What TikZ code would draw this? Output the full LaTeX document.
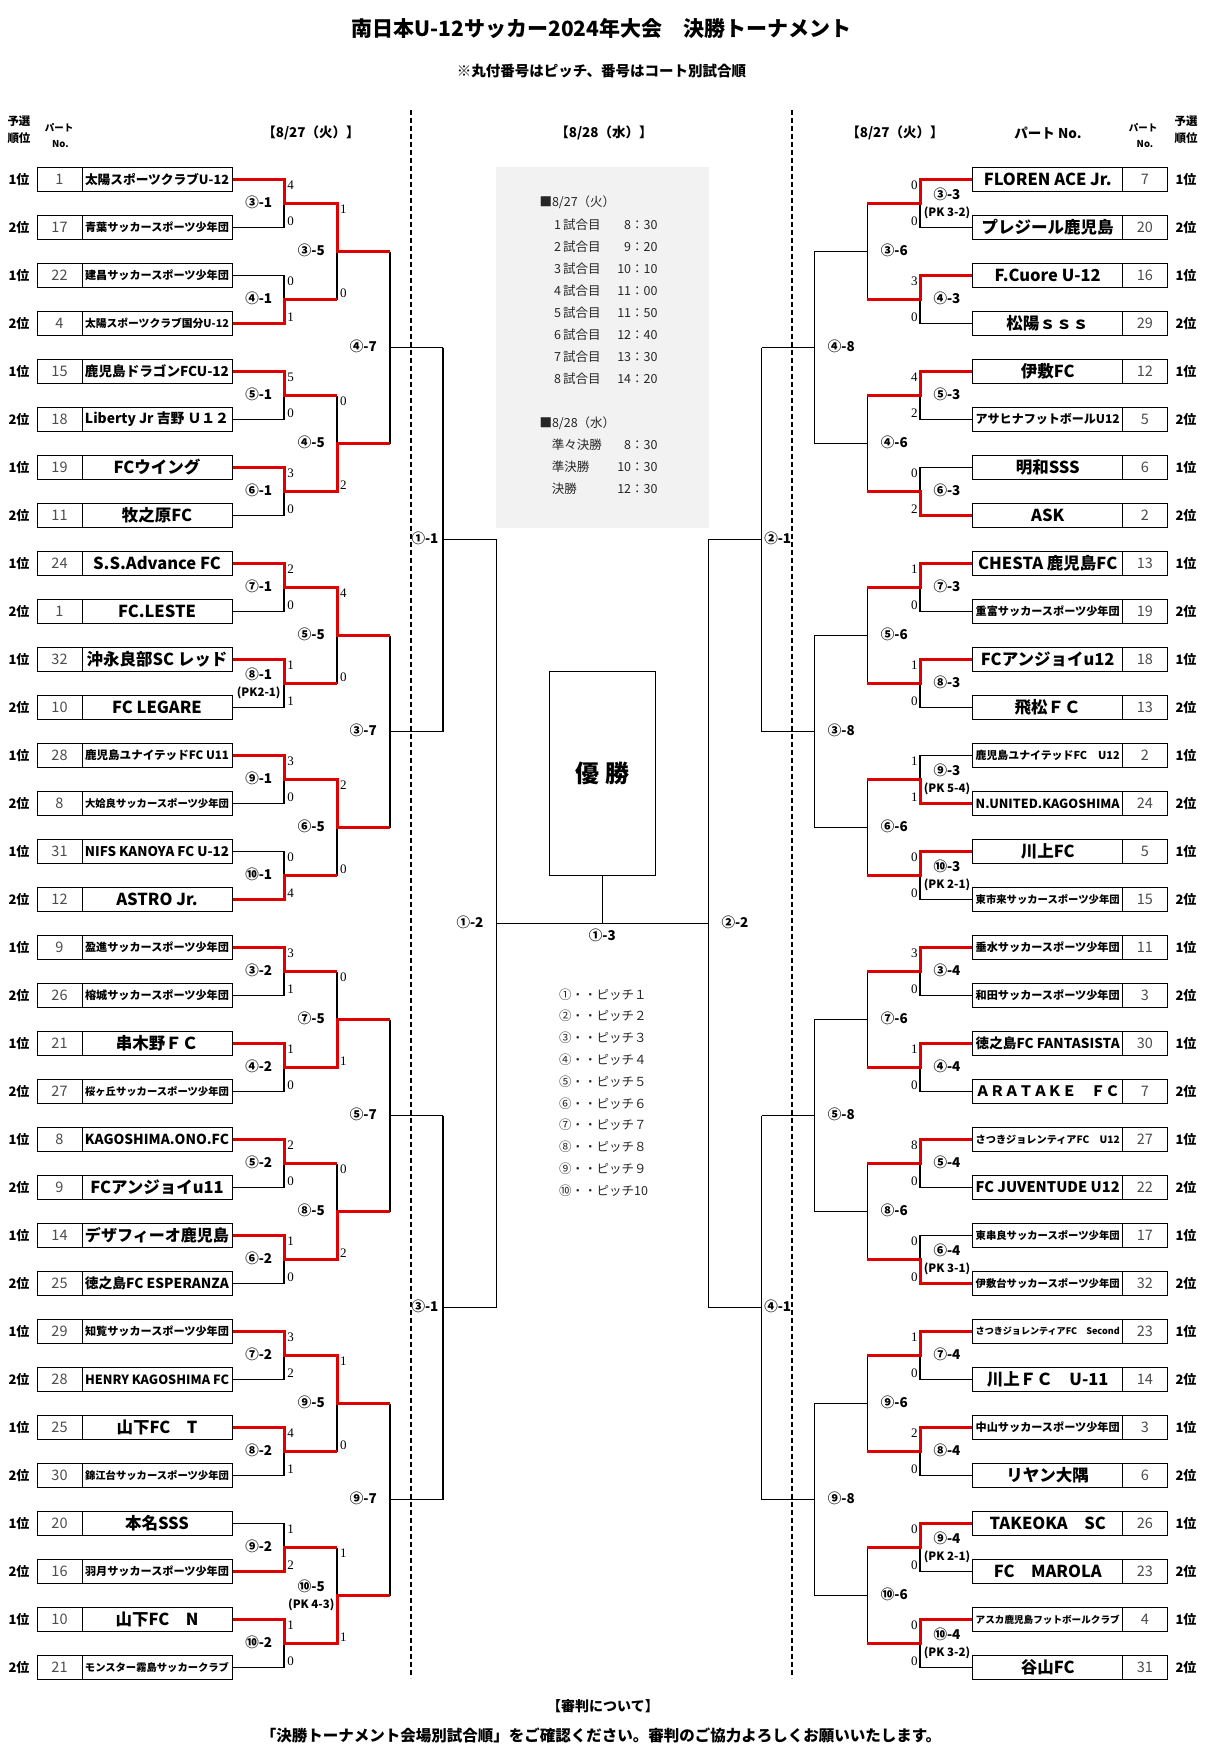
\documentclass[tikz,border=0pt]{standalone}
\usepackage{fontspec}
\setmainfont{Noto Sans CJK JP}
\newfontfamily\scorefont{Liberation Serif}
\usepackage{graphicx}
\definecolor{winred}{RGB}{224,0,0}

% shrink a team name to the cell
\newsavebox\fitbox
\newcommand\fitname[1]{\sbox\fitbox{#1}%
  \ifdim\wd\fitbox>144pt\resizebox{144pt}{!}{\usebox\fitbox}\else\usebox\fitbox\fi}

% row, rank, number, name
\newcommand\lteam[4]{%
  \node[numbox] (Ln#1) at (59.5,{131.5+48*#1}) {#3};
  \node[namebox] (L#1) at (157,{131.5+48*#1}) {\fitname{#4}};
  \node[rank] (Lr#1) at (19,{131.5+48*#1}) {#2位};}
\newcommand\rteam[4]{%
  \node[namebox] (R#1) at (1047.7,{131.5+48*#1}) {\fitname{#4}};
  \node[numbox] (Rn#1) at (1144.8,{131.5+48*#1}) {#3};
  \node[rank] (Rr#1) at (1186,{131.5+48*#1}) {#2位};}

% [pk] joint, xshift, label
\newcommand\game[4][]{%
  \if\relax\detokenize{#1}\relax
    \node[mlab] (#2-l) at ([xshift=#3pt,yshift=1pt]#2) {#4};%
  \else
    \node[mlab] (#2-l) at ([xshift=#3pt,yshift=9.5pt]#2) {#4};%
    \node[pk] (#2-pk) at ([xshift=#3pt,yshift=-9.5pt]#2) {(#1)};%
  \fi}
% joint, xshift, yshift, top, bottom
\newcommand\scores[5]{%
  \node[sc] (#1-s1) at ([xshift=#2pt,yshift=#3pt]#1) {#4};%
  \node[sc] (#1-s2) at ([xshift=#2pt,yshift=-#3pt]#1) {#5};}

\tikzset{
  namebox/.style={draw, line width=1pt, minimum width=150pt, minimum height=23.5pt,
    inner sep=0pt, font=\bfseries\fontsize{16.5}{16.5}\selectfont},
  numbox/.style={draw, line width=1pt, minimum width=45pt, minimum height=23.5pt,
    inner sep=0pt, text=black!70, font=\fontsize{14.5}{14.5}\selectfont},
  rank/.style={inner sep=0pt, font=\bfseries\fontsize{13}{13}\selectfont},
  mlab/.style={inner sep=0pt, font=\bfseries\fontsize{13.5}{13.5}\selectfont},
  pk/.style={inner sep=0pt, font=\bfseries\fontsize{11.5}{11.5}\selectfont},
  sc/.style={inner sep=0pt, font=\scorefont\fontsize{13}{13}\selectfont},
  blackline/.style={line width=1.2pt},
  redline/.style={line width=3pt, draw=winred},
  sepline/.style={line width=1.6pt, dash pattern=on 5pt off 3pt},
  sched/.style={inner sep=0pt, text=black!85, font=\fontsize{12.5}{12.5}\selectfont},
  head/.style={inner sep=0pt, font=\bfseries\fontsize{13.5}{13.5}\selectfont},
  heads/.style={inner sep=0pt, font=\bfseries\fontsize{9.5}{9.5}\selectfont},
}

\begin{document}
\begin{tikzpicture}[x=1pt,y=-1pt]
\fill[white] (0,0) rectangle (1205,1748);
\useasboundingbox (0,0) rectangle (1205,1748);

% titles
\node[inner sep=0pt, font=\bfseries\fontsize{21}{21}\selectfont] (title) at (601.5,28.3)
  {南日本U-12サッカー2024年大会　決勝トーナメント};
\node[inner sep=0pt, font=\bfseries\fontsize{14.5}{14.5}\selectfont] (subtitle) at (601.5,70.7)
  {※丸付番号はピッチ、番号はコート別試合順};
\node[head, font=\bfseries\fontsize{11.5}{11.5}\selectfont] (h1) at (19,121.7) {予選};
\node[head, font=\bfseries\fontsize{11.5}{11.5}\selectfont] (h2) at (19,138.3) {順位};
\node[heads] (h3) at (59,128) {パート};
\node[heads] (h4) at (60.5,144) {No.};
\node[head] (h5) at (311,133) {【8/27（火）】};
\node[head] (h6) at (604,133) {【8/28（水）】};
\node[head] (h7) at (895,133) {【8/27（火）】};
\node[head] (h8) at (1048,133) {パート No.};
\node[heads] (h9) at (1143,128) {パート};
\node[heads] (h10) at (1145,144) {No.};
\node[head, font=\bfseries\fontsize{11.5}{11.5}\selectfont] (h11) at (1186,121.7) {予選};
\node[head, font=\bfseries\fontsize{11.5}{11.5}\selectfont] (h12) at (1186,138.3) {順位};

% day separators
\coordinate (dl1) at (411,110);
\coordinate (dl2) at (411,1678);
\coordinate (dr1) at (791.8,110);
\coordinate (dr2) at (791.8,1678);
\draw[sepline] (dl1) -- (dl2);
\draw[sepline] (dr1) -- (dr2);

% schedule
\node[fill=black!5, minimum width=213pt, minimum height=361pt, inner sep=0pt] (sched) at (602.5,347.2) {};
\node[sched, anchor=west] (d1) at (539.3,202.7) {■8/27（火）};
\foreach \n/\t [count=\i] in {1/8：30,2/9：20,3/10：10,4/11：00,5/11：50,6/12：40,7/13：30,8/14：20} {
  \node[sched, anchor=west] (g\i) at (554,{203+22*\i}) {\n\,試合目};
  \node[sched, anchor=east] (t\i) at (657.7,{203+22*\i}) {\t};}
\node[sched, anchor=west] (d2) at (539.3,423.3) {■8/28（水）};
\foreach \n/\t [count=\i] in {準々決勝/8：30,準決勝/10：30,決勝/12：30} {
  \node[sched, anchor=west] (k\i) at (551.7,{423+22*\i}) {\n};
  \node[sched, anchor=east] (u\i) at (657.7,{423+22*\i}) {\t};}

% pitches
\foreach \c/\p [count=\i] in {①/１,②/２,③/３,④/４,⑤/５,⑥/６,⑦/７,⑧/８,⑨/９,⑩/10}
  \node[sched, anchor=west] (p\i) at (559,{972.6+21.8*\i}) {\c・・ピッチ\p};

% teams
\lteam{1}{1}{1}{太陽スポーツクラブU-12}
\lteam{2}{2}{17}{青葉サッカースポーツ少年団}
\lteam{3}{1}{22}{建昌サッカースポーツ少年団}
\lteam{4}{2}{4}{太陽スポーツクラブ国分U-12}
\lteam{5}{1}{15}{鹿児島ドラゴンFCU-12}
\lteam{6}{2}{18}{Liberty Jr 吉野 Ｕ１２}
\lteam{7}{1}{19}{FCウイング}
\lteam{8}{2}{11}{牧之原FC}
\lteam{9}{1}{24}{S.S.Advance FC}
\lteam{10}{2}{1}{FC.LESTE}
\lteam{11}{1}{32}{沖永良部SC レッド}
\lteam{12}{2}{10}{FC LEGARE}
\lteam{13}{1}{28}{鹿児島ユナイテッドFC U11}
\lteam{14}{2}{8}{大姶良サッカースポーツ少年団}
\lteam{15}{1}{31}{NIFS KANOYA FC U-12}
\lteam{16}{2}{12}{ASTRO Jr.}
\lteam{17}{1}{9}{盈進サッカースポーツ少年団}
\lteam{18}{2}{26}{榕城サッカースポーツ少年団}
\lteam{19}{1}{21}{串木野ＦＣ}
\lteam{20}{2}{27}{桜ヶ丘サッカースポーツ少年団}
\lteam{21}{1}{8}{KAGOSHIMA.ONO.FC}
\lteam{22}{2}{9}{FCアンジョイu11}
\lteam{23}{1}{14}{デザフィーオ鹿児島}
\lteam{24}{2}{25}{徳之島FC ESPERANZA}
\lteam{25}{1}{29}{知覧サッカースポーツ少年団}
\lteam{26}{2}{28}{HENRY KAGOSHIMA FC}
\lteam{27}{1}{25}{山下FC　T}
\lteam{28}{2}{30}{錦江台サッカースポーツ少年団}
\lteam{29}{1}{20}{本名SSS}
\lteam{30}{2}{16}{羽月サッカースポーツ少年団}
\lteam{31}{1}{10}{山下FC　N}
\lteam{32}{2}{21}{モンスター霧島サッカークラブ}

\rteam{1}{1}{7}{FLOREN ACE Jr.}
\rteam{2}{2}{20}{プレジール鹿児島}
\rteam{3}{1}{16}{F.Cuore U-12}
\rteam{4}{2}{29}{松陽ｓｓｓ}
\rteam{5}{1}{12}{伊敷FC}
\rteam{6}{2}{5}{アサヒナフットボールU12}
\rteam{7}{1}{6}{明和SSS}
\rteam{8}{2}{2}{ASK}
\rteam{9}{1}{13}{CHESTA 鹿児島FC}
\rteam{10}{2}{19}{重富サッカースポーツ少年団}
\rteam{11}{1}{18}{FCアンジョイu12}
\rteam{12}{2}{13}{飛松ＦＣ}
\rteam{13}{1}{2}{鹿児島ユナイテッドFC　U12}
\rteam{14}{2}{24}{N.UNITED.KAGOSHIMA}
\rteam{15}{1}{5}{川上FC}
\rteam{16}{2}{15}{東市来サッカースポーツ少年団}
\rteam{17}{1}{11}{垂水サッカースポーツ少年団}
\rteam{18}{2}{3}{和田サッカースポーツ少年団}
\rteam{19}{1}{30}{徳之島FC FANTASISTA}
\rteam{20}{2}{7}{ＡＲＡＴＡＫＥ　ＦＣ}
\rteam{21}{1}{27}{さつきジョレンティアFC　U12}
\rteam{22}{2}{22}{FC JUVENTUDE U12}
\rteam{23}{1}{17}{東串良サッカースポーツ少年団}
\rteam{24}{2}{32}{伊敷台サッカースポーツ少年団}
\rteam{25}{1}{23}{さつきジョレンティアFC　Second}
\rteam{26}{2}{14}{川上ＦＣ　U-11}
\rteam{27}{1}{3}{中山サッカースポーツ少年団}
\rteam{28}{2}{6}{リヤン大隅}
\rteam{29}{1}{26}{TAKEOKA　SC}
\rteam{30}{2}{23}{FC　MAROLA}
\rteam{31}{1}{4}{アスカ鹿児島フットボールクラブ}
\rteam{32}{2}{31}{谷山FC}

% joints
\foreach \k in {1,...,16} {
  \coordinate (la\k) at (284,{107.5+96*\k});
  \coordinate (ra\k) at (920,{107.5+96*\k});}
\foreach \k in {1,...,8} {
  \coordinate (lb\k) at (337,{59.5+192*\k});
  \coordinate (rb\k) at (867.3,{59.5+192*\k});}
\foreach \k in {1,...,4} {
  \coordinate (lc\k) at (390,{-36.5+384*\k});
  \coordinate (rc\k) at (814.3,{-36.5+384*\k});}
\foreach \k in {1,2} {
  \coordinate (ld\k) at (443,{-228.5+768*\k});
  \coordinate (rd\k) at (761.7,{-228.5+768*\k});}
\coordinate (le) at (496.7,923.5);
\coordinate (re) at (708.3,923.5);

% losers
\foreach \k/\l in {1/2,2/3,3/6,4/8,5/10,6/12,7/14,8/15,9/18,10/20,11/22,12/24,13/26,14/28,15/29,16/32}
  \draw[blackline] (L\l.east) -| (la\k);
\foreach \j/\l in {1/2,2/3,3/6,4/8,5/9,6/11,7/14,8/15}
  \draw[blackline] (la\l -| lb\j) -- (lb\j);
\foreach \k/\l in {1/2,2/4,3/6,4/7,5/10,6/12,7/13,8/16,9/18,10/20,11/22,12/23,13/26,14/28,15/30,16/32}
  \draw[blackline] (R\l.west) -| (ra\k);
\foreach \j/\a/\b/\q in {1/1/2/1,2/3/4/1,3/5/6/2,4/7/8/2,5/9/10/3,6/11/12/3,7/13/14/4,8/15/16/4} {
  \draw[blackline] (ra\a -| rb\j) -- (ra\b -| rb\j);
  \draw[blackline] (rb\j) -- (rb\j -| rc\q);}
\foreach \q/\a/\b/\r in {1/1/2/1,2/3/4/1,3/5/6/2,4/7/8/2} {
  \draw[blackline] (lb\a -| lc\q) -- (lb\b -| lc\q);
  \draw[blackline] (lc\q) -- (lc\q -| ld\r);
  \draw[blackline] (rb\a -| rc\q) -- (rb\b -| rc\q);
  \draw[blackline] (rc\q) -- (rc\q -| rd\r);}
\draw[blackline] (lc1 -| ld1) -- (lc2 -| ld1);
\draw[blackline] (lc3 -| ld2) -- (lc4 -| ld2);
\draw[blackline] (ld1) -- (ld1 -| le);
\draw[blackline] (ld2) -- (ld2 -| le);
\draw[blackline] (ld1 -| le) -- (ld2 -| le);
\draw[blackline] (rc1 -| rd1) -- (rc2 -| rd1);
\draw[blackline] (rc3 -| rd2) -- (rc4 -| rd2);
\draw[blackline] (rd1) -- (rd1 -| re);
\draw[blackline] (rd2) -- (rd2 -| re);
\draw[blackline] (rd1 -| re) -- (rd2 -| re);
\draw[blackline] (le) -- (re);

% winners
\foreach \j/\q/\a/\wa/\b/\wb in {1/1/1/1/2/4,2/1/4/7/3/5,3/2/5/9/6/11,4/2/7/13/8/16,
    5/3/10/19/9/17,6/3/12/23/11/21,7/4/13/25/14/27,8/4/16/31/15/30} {
  \draw[redline] (L\wa.east) -| (la\a) -| (lb\j) -- (lb\j -| lc\q);
  \draw[redline] (L\wb.east) -| (la\b) -- (la\b -| lb\j);}
\foreach \k/\j/\w in {1/1/1,2/1/3,3/2/5,4/2/8,5/3/9,6/3/11,7/4/14,8/4/15,
    9/5/17,10/5/19,11/6/21,12/6/24,13/7/25,14/7/27,15/8/29,16/8/31}
  \draw[redline] (R\w.west) -| (ra\k) -- (ra\k -| rb\j);

% champion
\node[draw, line width=1pt, minimum width=106pt, minimum height=204pt,
  font=\bfseries\fontsize{24}{24}\selectfont] (cup) at (602.3,773.4) {優 勝};
\draw[blackline] (cup.south) -- (cup.south |- le);

% left results
\game{la1}{-25.3}{③-1} \scores{la1}{6.5}{18}{4}{0}
\game{la2}{-25.3}{④-1} \scores{la2}{6.5}{18}{0}{1}
\game{la3}{-25.3}{⑤-1} \scores{la3}{6.5}{18}{5}{0}
\game{la4}{-25.3}{⑥-1} \scores{la4}{6.5}{18}{3}{0}
\game{la5}{-25.3}{⑦-1} \scores{la5}{6.5}{18}{2}{0}
\game[PK2-1]{la6}{-25.3}{⑧-1} \scores{la6}{6.5}{18}{1}{1}
\game{la7}{-25.3}{⑨-1} \scores{la7}{6.5}{18}{3}{0}
\game{la8}{-25.3}{⑩-1} \scores{la8}{6.5}{18}{0}{4}
\game{la9}{-25.3}{③-2} \scores{la9}{6.5}{18}{3}{1}
\game{la10}{-25.3}{④-2} \scores{la10}{6.5}{18}{1}{0}
\game{la11}{-25.3}{⑤-2} \scores{la11}{6.5}{18}{2}{0}
\game{la12}{-25.3}{⑥-2} \scores{la12}{6.5}{18}{1}{0}
\game{la13}{-25.3}{⑦-2} \scores{la13}{6.5}{18}{3}{2}
\game{la14}{-25.3}{⑧-2} \scores{la14}{6.5}{18}{4}{1}
\game{la15}{-25.3}{⑨-2} \scores{la15}{6.5}{18}{1}{2}
\game{la16}{-25.3}{⑩-2} \scores{la16}{6.5}{18}{1}{0}
\game{lb1}{-25.7}{③-5} \scores{lb1}{6.3}{42}{1}{0}
\game{lb2}{-25.7}{④-5} \scores{lb2}{6.3}{42}{0}{2}
\game{lb3}{-25.7}{⑤-5} \scores{lb3}{6.3}{42}{4}{0}
\game{lb4}{-25.7}{⑥-5} \scores{lb4}{6.3}{42}{2}{0}
\game{lb5}{-25.7}{⑦-5} \scores{lb5}{6.3}{42}{0}{1}
\game{lb6}{-25.7}{⑧-5} \scores{lb6}{6.3}{42}{0}{2}
\game{lb7}{-25.7}{⑨-5} \scores{lb7}{6.3}{42}{1}{0}
\game[PK 4-3]{lb8}{-25.7}{⑩-5} \scores{lb8}{6.3}{42}{1}{1}
\game{lc1}{-26.7}{④-7}
\game{lc2}{-26.7}{③-7}
\game{lc3}{-26.7}{⑤-7}
\game{lc4}{-26.7}{⑨-7}
\game{ld1}{-18}{①-1}
\game{ld2}{-18}{③-1}

% right results
\game[PK 3-2]{ra1}{27}{③-3} \scores{ra1}{-5.7}{18}{0}{0}
\game{ra2}{27}{④-3} \scores{ra2}{-5.7}{18}{3}{0}
\game{ra3}{27}{⑤-3} \scores{ra3}{-5.7}{18}{4}{2}
\game{ra4}{27}{⑥-3} \scores{ra4}{-5.7}{18}{0}{2}
\game{ra5}{27}{⑦-3} \scores{ra5}{-5.7}{18}{1}{0}
\game{ra6}{27}{⑧-3} \scores{ra6}{-5.7}{18}{1}{0}
\game[PK 5-4]{ra7}{27}{⑨-3} \scores{ra7}{-5.7}{18}{1}{1}
\game[PK 2-1]{ra8}{27}{⑩-3} \scores{ra8}{-5.7}{18}{0}{0}
\game{ra9}{27}{③-4} \scores{ra9}{-5.7}{18}{3}{0}
\game{ra10}{27}{④-4} \scores{ra10}{-5.7}{18}{1}{0}
\game{ra11}{27}{⑤-4} \scores{ra11}{-5.7}{18}{8}{0}
\game[PK 3-1]{ra12}{27}{⑥-4} \scores{ra12}{-5.7}{18}{0}{0}
\game{ra13}{27}{⑦-4} \scores{ra13}{-5.7}{18}{1}{0}
\game{ra14}{27}{⑧-4} \scores{ra14}{-5.7}{18}{2}{0}
\game[PK 2-1]{ra15}{27}{⑨-4} \scores{ra15}{-5.7}{18}{0}{0}
\game[PK 3-2]{ra16}{27}{⑩-4} \scores{ra16}{-5.7}{18}{0}{0}
\game{rb1}{27}{③-6}
\game{rb2}{27}{④-6}
\game{rb3}{27}{⑤-6}
\game{rb4}{27}{⑥-6}
\game{rb5}{27}{⑦-6}
\game{rb6}{27}{⑧-6}
\game{rb7}{27}{⑨-6}
\game{rb8}{27}{⑩-6}
\game{rc1}{27}{④-8}
\game{rc2}{27}{③-8}
\game{rc3}{27}{⑤-8}
\game{rc4}{27}{⑨-8}
\game{rd1}{16}{②-1}
\game{rd2}{16}{④-1}

% final rounds
\game{le}{-26.7}{①-2}
\game{re}{26.7}{②-2}
\node[mlab] (fin) at ([yshift=-11.5pt]cup.south |- le) {①-3};

% referee note
\node[inner sep=0pt, font=\bfseries\fontsize{14}{14}\selectfont] (ref1) at (603,1705.7) {【審判について】};
\node[inner sep=0pt, font=\bfseries\fontsize{15.5}{15.5}\selectfont] (ref2) at (601,1735)
  {「決勝トーナメント会場別試合順」をご確認ください。審判のご協力よろしくお願いいたします。};
\end{tikzpicture}
\end{document}
